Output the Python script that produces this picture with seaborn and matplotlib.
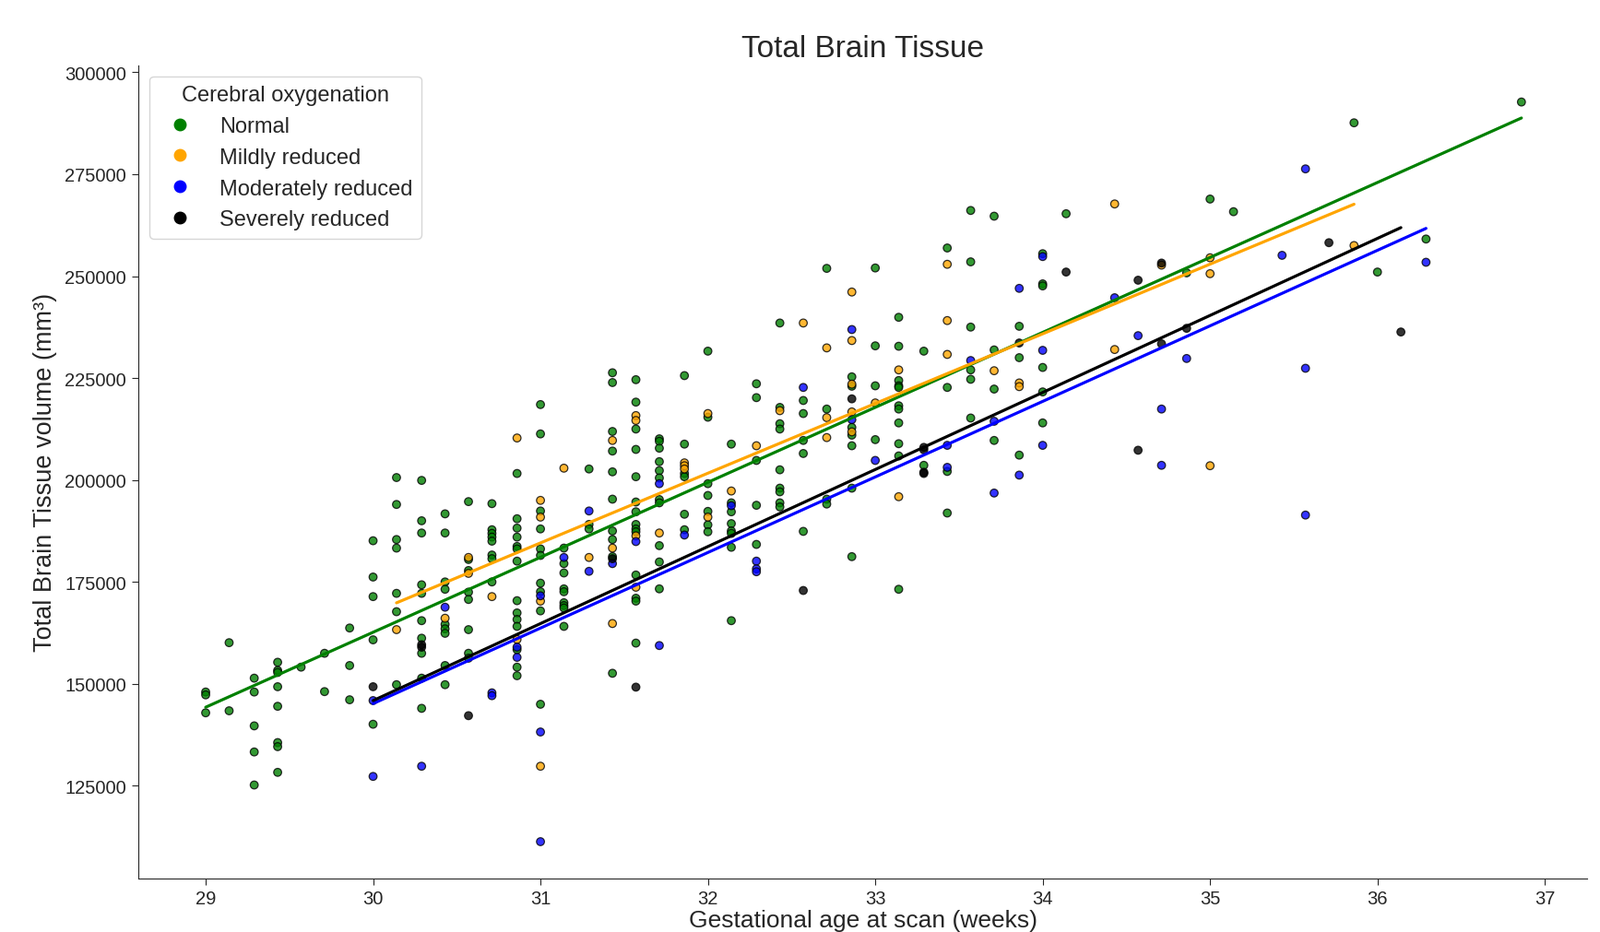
import matplotlib
matplotlib.use("Agg")
import numpy as np
import pandas as pd
import seaborn as sns
from matplotlib import pyplot as plt
from matplotlib.lines import Line2D

# ------------------------------
# データ
# 在胎週数 (weeks) と 脳組織体積 (mm3)
# ------------------------------
normal_ga = [
    29.0, 29.0, 29.0, 29.14, 29.14,
    29.29, 29.29, 29.29, 29.29, 29.29,
    29.43, 29.43, 29.43, 29.43, 29.43, 29.43, 29.43, 29.43,
    29.57, 29.71, 29.71, 29.86, 29.86, 29.86,
    30.0, 30.0, 30.0, 30.0, 30.0,
    30.14, 30.14, 30.14, 30.14, 30.14, 30.14, 30.14,
    30.29, 30.29, 30.29, 30.29, 30.29, 30.29, 30.29, 30.29, 30.29, 30.29,
    30.43, 30.43, 30.43, 30.43, 30.43, 30.43, 30.43, 30.43, 30.43,
    30.57, 30.57, 30.57, 30.57, 30.57, 30.57, 30.57, 30.57,
    30.71, 30.71, 30.71, 30.71, 30.71, 30.71, 30.71, 30.71,
    30.86, 30.86, 30.86, 30.86, 30.86, 30.86, 30.86, 30.86, 30.86, 30.86, 30.86, 30.86, 30.86, 30.86,
    31.0, 31.0, 31.0, 31.0, 31.0, 31.0, 31.0, 31.0, 31.0, 31.0,
    31.14, 31.14, 31.14, 31.14, 31.14, 31.14, 31.14, 31.14, 31.14,
    31.29, 31.29, 31.29,
    31.43, 31.43, 31.43, 31.43, 31.43, 31.43, 31.43, 31.43, 31.43, 31.43,
    31.57, 31.57, 31.57, 31.57, 31.57, 31.57, 31.57, 31.57, 31.57, 31.57, 31.57, 31.57, 31.57, 31.57,
    31.71, 31.71, 31.71, 31.71, 31.71, 31.71, 31.71, 31.71, 31.71, 31.71, 31.71,
    31.86, 31.86, 31.86, 31.86, 31.86, 31.86,
    32.0, 32.0, 32.0, 32.0, 32.0, 32.0, 32.0,
    32.14, 32.14, 32.14, 32.14, 32.14, 32.14, 32.14, 32.14,
    32.29, 32.29, 32.29, 32.29, 32.29,
    32.43, 32.43, 32.43, 32.43, 32.43, 32.43, 32.43, 32.43, 32.43,
    32.57, 32.57, 32.57, 32.57, 32.57,
    32.71, 32.71, 32.71, 32.71,
    32.86, 32.86, 32.86, 32.86, 32.86, 32.86, 32.86,
    33.0, 33.0, 33.0, 33.0,
    33.14, 33.14, 33.14, 33.14, 33.14, 33.14, 33.14, 33.14, 33.14, 33.14, 33.14,
    33.29, 33.29,
    33.43, 33.43, 33.43, 33.43,
    33.57, 33.57, 33.57, 33.57, 33.57, 33.57,
    33.71, 33.71, 33.71, 33.71,
    33.86, 33.86, 33.86,
    34.0, 34.0, 34.0, 34.0, 34.0, 34.0,
    34.14, 34.86, 35.0, 35.14, 35.86, 36.0, 36.29, 36.86,
]
normal_vol = [
    148000, 147300, 142900, 160100, 143400,
    151400, 148000, 139700, 133300, 125200,
    155300, 153300, 152800, 149300, 144500, 135600, 134600, 128300,
    154100, 157500, 148100, 163700, 154500, 146100,
    185100, 176200, 171400, 160800, 140100,
    200600, 194000, 185400, 183300, 172200, 167700, 149800,
    199900, 190000, 187000, 174300, 172200, 165500, 161200, 157500, 151400, 144000,
    191700, 187000, 175000, 173200, 164600, 163500, 162400, 154500, 149800,
    194700, 180500, 177800, 172500, 170700, 163300, 157500, 156300,
    194200, 187800, 186900, 186000, 185000, 181600, 180700, 175000,
    201600, 190500, 188200, 186000, 183700, 183100, 180100, 170400, 167400, 165800, 164100, 158400, 154100, 152000,
    218500, 211300, 192400, 188000, 183100, 181500, 174700, 172600, 167900, 145000,
    183300, 179500, 177200, 173300, 172600, 169900, 169200, 168600, 164100,
    202700, 189100, 188000,
    226300, 223900, 211900, 207100, 202000, 195300, 187500, 185400, 181200, 152600,
    224600, 219100, 212500, 207500, 200800, 194600, 192200, 189100, 188000, 187300, 176700, 171000, 170300, 160000,
    210100, 209500, 207800, 204500, 202300, 200500, 195200, 194400, 183900, 179900, 173300,
    225600, 208800, 201600, 200800, 191600, 187800,
    231600, 215400, 199100, 196200, 192300, 189000, 187300,
    208800, 194400, 192200, 189300, 187500, 186900, 183500, 165500,
    223600, 220200, 204800, 193800, 184200,
    238500, 217800, 213800, 212500, 202500, 198000, 197100, 194400, 193400,
    219500, 216300, 209700, 206500, 187400,
    251900, 217400, 195300, 194100,
    225300, 223000, 212900, 211000, 208400, 198000, 181200,
    252000, 232900, 223100, 209900,
    239900, 232800, 224400, 223100, 222700, 218200, 217400, 214000, 208900, 205900, 173200,
    231600, 203600,
    256900, 222700, 202100, 191900,
    266100, 253500, 237500, 227000, 224700, 215200,
    264700, 231900, 222300, 209700,
    237700, 230000, 206100,
    255500, 248100, 247600, 227600, 221600, 214000,
    265300, 250800, 268900, 265800, 287600, 251000, 259100, 292700,
]

mild_ga = [
    30.14, 30.43, 30.57, 30.57, 30.71, 30.86, 30.86,
    31.0, 31.0, 31.0, 31.0, 31.14, 31.29,
    31.43, 31.43, 31.43, 31.57, 31.57, 31.57, 31.57,
    31.71, 31.86, 31.86, 31.86,
    32.0, 32.0, 32.14, 32.29, 32.43, 32.57,
    32.71, 32.71, 32.71, 32.86, 32.86, 32.86, 32.86, 32.86,
    33.0, 33.14, 33.14, 33.43, 33.43, 33.43, 33.71, 33.86, 33.86,
    34.43, 34.43, 34.71, 35.0, 35.0, 35.0, 35.86,
]
mild_vol = [
    163300, 166100, 181000, 177100, 171400, 210300, 160900,
    195000, 190900, 170300, 129800, 202900, 181000,
    209700, 183300, 164800, 215800, 214600, 186300, 173700,
    187000, 204200, 203500, 202700,
    216300, 190900, 197300, 208400, 217000, 238500,
    232400, 215300, 210400, 246100, 234200, 223500, 216700, 211800,
    218900, 227000, 195900, 252900, 239100, 230800, 226800, 223800, 222900,
    267700, 232000, 252700, 254500, 250600, 203500, 257500,
]

moderate_ga = [
    30.0, 30.0, 30.29, 30.43, 30.71, 30.71, 30.86, 30.86,
    31.0, 31.0, 31.0, 31.14, 31.29, 31.29, 31.43, 31.57,
    31.71, 31.71, 31.86, 32.14, 32.29, 32.29, 32.29,
    32.57, 32.86, 32.86, 33.0, 33.43, 33.43, 33.57,
    33.71, 33.71, 33.86, 33.86, 34.0, 34.0, 34.0,
    34.43, 34.57, 34.71, 34.71, 34.86,
    35.43, 35.57, 35.57, 35.57, 36.29,
]
moderate_vol = [
    145900, 127300, 129800, 168800, 147800, 147100, 159000, 156500,
    171600, 138200, 111300, 181000, 192400, 177600, 179500, 184900,
    199100, 159400, 186500, 193700, 180100, 178200, 177500,
    222700, 236900, 214800, 204800, 208500, 203100, 229300,
    214400, 196800, 247000, 201200, 254800, 231800, 208500,
    244700, 235400, 217400, 203600, 229800,
    255100, 276300, 227400, 191400, 253400,
]

severe_ga = [
    30.0, 30.29, 30.29, 30.57, 31.43, 31.57, 32.57, 32.86,
    33.29, 33.29, 33.29, 33.29, 33.86, 34.14,
    34.57, 34.57, 34.71, 34.71, 34.86, 35.71, 36.14,
]
severe_vol = [
    149300, 159600, 159000, 142200, 180700, 149200, 172900, 219900,
    208000, 207400, 201900, 201600, 233600, 251000,
    249000, 207300, 253200, 233400, 237200, 258200, 236300,
]

groups = ["Normal", "Mildly reduced", "Moderately reduced", "Severely reduced"]
colors = ["green", "orange", "blue", "black"]

df = pd.concat([
    pd.DataFrame({"ga": normal_ga, "vol": normal_vol, "group": groups[0]}),
    pd.DataFrame({"ga": mild_ga, "vol": mild_vol, "group": groups[1]}),
    pd.DataFrame({"ga": moderate_ga, "vol": moderate_vol, "group": groups[2]}),
    pd.DataFrame({"ga": severe_ga, "vol": severe_vol, "group": groups[3]}),
], ignore_index=True)

# ------------------------------
# 描画
# ------------------------------
sns.set_style("ticks")
plt.rcParams["font.family"] = ["Liberation Sans", "DejaVu Sans"]

fig = plt.figure(figsize=(17.35, 10.12), dpi=100)
ax = fig.add_axes([0.0867, 0.0575, 0.905, 0.8715])

sns.scatterplot(data=df, x="ga", y="vol", hue="group", hue_order=groups,
                palette=colors, s=38, edgecolor="black", linewidth=0.9,
                alpha=0.8, legend=False, ax=ax)

# 回帰直線
for g, c in zip(groups, colors):
    sns.regplot(data=df[df["group"] == g], x="ga", y="vol", scatter=False,
                ci=None, color=c, line_kws={"lw": 2.3}, ax=ax)

ax.set_xlim(28.6, 37.25)
ax.set_ylim(102300, 301700)
ax.set_xticks(np.arange(29, 38))
ax.set_yticks(np.arange(125000, 300001, 25000))
ax.tick_params(axis="y", labelsize=14.5, length=5, pad=4.5)
ax.tick_params(axis="x", labelsize=14.5, length=5, pad=4)
sns.despine(ax=ax)

ax.set_title("Total Brain Tissue", fontsize=24, pad=7)
ax.set_xlabel("Gestational age at scan (weeks)", fontsize=19, labelpad=1)
ax.set_ylabel("Total Brain Tissue volume (mm³)", fontsize=19.5, labelpad=6)

handles = [Line2D([0], [0], marker="o", linestyle="", color=c, markersize=9, label=g)
           for g, c in zip(groups, colors)]
ax.legend(handles=handles, title="Cerebral oxygenation", fontsize=17,
          title_fontsize=17, loc="upper left")

fig.savefig("out.png", dpi=100)
